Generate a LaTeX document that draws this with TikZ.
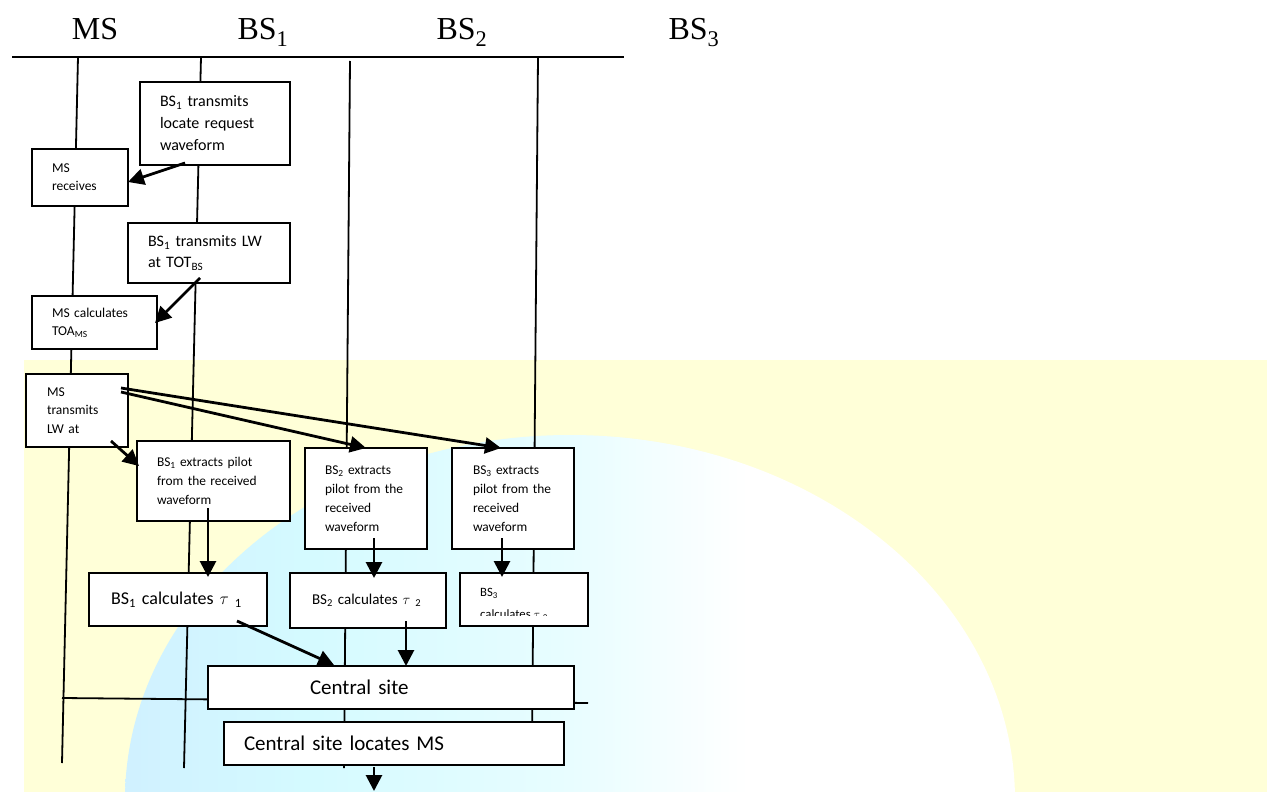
\documentclass[tikz,border=0pt]{standalone}
\usepackage{fontspec}
\setmainfont{Carlito}
\newfontfamily\hdfont{Liberation Serif}
\usetikzlibrary{arrows.meta,calc}

\definecolor{bgyellow}{RGB}{255,255,216}
\definecolor{globeblue}{RGB}{200,214,250}
\definecolor{globesky}{RGB}{206,236,255}
\definecolor{globecyan}{RGB}{212,250,255}
\definecolor{globepale}{RGB}{232,253,255}
\pgfdeclarehorizontalshading{globe}{100bp}{color(0bp)=(globeblue); color(20bp)=(globesky); color(35bp)=(globecyan); color(50bp)=(globepale); color(60bp)=(white); color(88bp)=(white); color(100bp)=(globecyan)}

\begin{document}
\begin{tikzpicture}[x=1pt, y=-1pt,
  stepbox/.style={draw, fill=white, line width=2.2pt, anchor=north west, align=left,
    inner ysep=0pt, inner xsep=20pt, outer sep=0pt},
  life/.style={line width=1.8pt},
  flow/.style={line width=2.8pt, -{Triangle[length=16pt,width=16pt]}},
  head/.style={font={\hdfont\fontsize{32}{34}\selectfont}, anchor=base}]

  \useasboundingbox (0,0) rectangle (1267,792);

  \fill[bgyellow] (24,360) rectangle (1267,792);
  \begin{scope}
    \clip (24,360) rectangle (1267,792);
    \shade[shading=globe] (570,800) ellipse [x radius=445, y radius=365];
  \end{scope}

  \node[head] (hMS)  at (95,40)  {MS};
  \node[head] (hBS1) at (263,40) {BS\textsubscript{1}};
  \node[head] (hBS2) at (462,40) {BS\textsubscript{2}};
  \node[head] (hBS3) at (694,40) {BS\textsubscript{3}};

  \coordinate (busL) at (12,57);   \coordinate (busR) at (624,57);
  \coordinate (msTop) at (78,57);  \coordinate (msEnd) at (62,763);
  \coordinate (bs1Top) at (201,57); \coordinate (bs1End) at (184,768);
  \coordinate (bs2Top) at (350,61); \coordinate (bs2End) at (344,768);
  \coordinate (bs3Top) at (538,57); \coordinate (bs3End) at (532,745);
  \coordinate (csL) at (62,698);   \coordinate (csR) at (588,703);
  \coordinate (outEnd) at (374,791);

  \draw[line width=2.4pt] (busL) -- (busR);
  \draw[life] (msTop) -- (msEnd);
  \draw[life] (bs1Top) -- (bs1End);
  \draw[life] (bs2Top) -- (bs2End);
  \draw[life] (bs3Top) -- (bs3End);
  \draw[life] (csL) -- (csR);

  \node[stepbox, text width=110pt, minimum height=83pt, font=\fontsize{16}{22}\selectfont]
    (txLR) at (140,82) {BS\textsubscript{1} transmits\\locate request\\waveform};
  \node[stepbox, text width=56pt, minimum height=57pt, font=\fontsize{13.5}{18}\selectfont]
    (msRx) at (32,149) {MS\\receives};
  \node[stepbox, text width=122pt, minimum height=60pt, font=\fontsize{16}{21}\selectfont]
    (txLW) at (128,223) {BS\textsubscript{1} transmits LW\\at TOT\textsubscript{BS}};
  \node[stepbox, text width=85pt, minimum height=53pt, font=\fontsize{13.5}{18}\selectfont]
    (msCalc) at (32,296) {MS calculates\\TOA\textsubscript{MS}};
  \node[stepbox, inner xsep=21pt, text width=60pt, minimum height=73pt, font=\fontsize{13.5}{18.5}\selectfont]
    (msTx) at (26,374) {MS\\transmits\\LW at};
  \node[stepbox, text width=113pt, minimum height=80pt, font=\fontsize{13.4}{19}\selectfont]
    (bs1Ex) at (137,441) {BS\textsubscript{1} extracts pilot\\from the received\\waveform};
  \node[stepbox, text width=82pt, minimum height=101pt, font=\fontsize{13.4}{19}\selectfont]
    (bs2Ex) at (305,448) {BS\textsubscript{2} extracts\\pilot from the\\received\\waveform};
  \node[stepbox, inner xsep=21pt, text width=80pt, minimum height=101pt, font=\fontsize{13.4}{19}\selectfont]
    (bs3Ex) at (452,448) {BS\textsubscript{3} extracts\\pilot from the\\received\\waveform};
  \node[stepbox, inner xsep=22pt, text width=134pt, minimum height=53pt, font=\fontsize{18}{22}\selectfont]
    (bs1Calc) at (89,573) {BS\textsubscript{1} calculates $\tau$ \textsubscript{1}};
  \node[stepbox, inner xsep=22pt, text width=112pt, minimum height=55pt, font=\fontsize{15}{19}\selectfont]
    (bs2Calc) at (290,573) {BS\textsubscript{2} calculates $\tau$ \textsubscript{2}};
  \node[stepbox, minimum width=128pt, minimum height=53pt] (bs3Calc) at (460,573) {};
  \begin{scope}
    \clip (bs3Calc.north west) rectangle ($(bs3Calc.south east)+(0,-11)$);
    \node[anchor=north west, inner sep=0pt, align=left, font=\fontsize{12.7}{22}\selectfont]
      (bs3CalcTxt) at (480,588) {BS\textsubscript{3}\\calculates $\tau$ \textsubscript{3}};
  \end{scope}
  \node[stepbox, inner xsep=102pt, text width=162pt, minimum height=43pt, font=\fontsize{21}{24}\selectfont]
    (cs) at (208,666) {Central site};
  \node[stepbox, text width=300pt, minimum height=43pt, font=\fontsize{21}{24}\selectfont]
    (loc) at (224,722) {Central site locates MS};

  \draw[flow] ($(txLR.south)+(-30,-2)$) -- ($(msRx.east)+(0,4.5)$);
  \draw[flow] ($(txLW.south)+(-9,-5)$) -- ($(msCalc.east)+(-2,0.5)$);
  \draw[flow] ($(msTx.south east)+(-17,-6)$) -- ($(bs1Ex.west)+(2,-15)$);
  \draw[flow] ($(msTx.east)+(-7,-18.5)$) -- (bs2Ex.north);
  \draw[flow] ($(msTx.east)+(-7,-22.5)$) -- ($(bs3Ex.north)+(-12,0)$);
  \draw[flow] ($(bs1Ex.south)+(-5.5,-13)$) -- ($(bs1Calc.north)+(30,4)$);
  \draw[flow] ($(bs2Ex.south)+(8,-11)$) -- ($(bs2Calc.north)+(6,5)$);
  \draw[flow] ($(bs3Ex.south)+(-11,-11)$) -- ($(bs3Calc.north)+(-22,4)$);
  \draw[flow] ($(bs1Calc.south)+(59,-5)$) -- ($(cs.north)+(-57,-1)$);
  \draw[flow] ($(bs2Calc.south)+(38,-7)$) -- ($(cs.north)+(15,0)$);
  \draw[flow] ($(loc.south)+(-20,2)$) -- (outEnd);
\end{tikzpicture}
\end{document}
